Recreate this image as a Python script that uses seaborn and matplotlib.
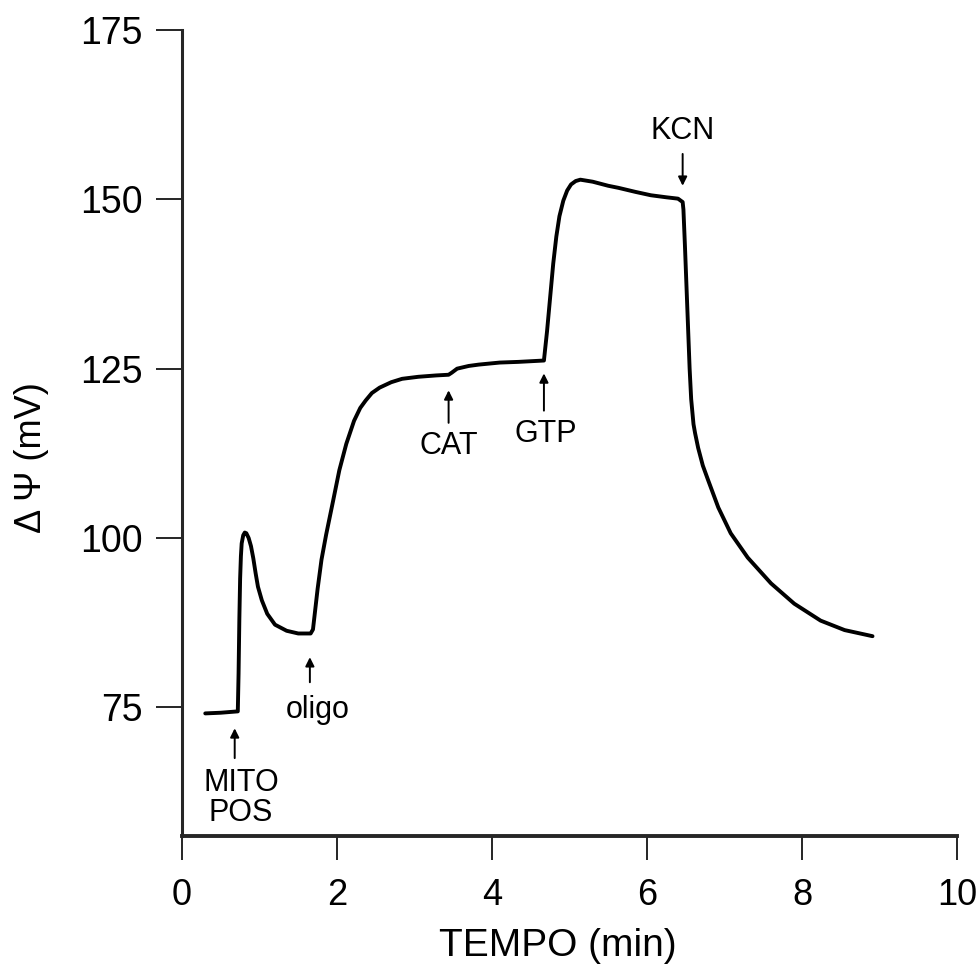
import matplotlib
matplotlib.use("Agg")
import matplotlib.pyplot as plt
import seaborn as sns
import pandas as pd

# Membrane potential trace (time in min, potential in mV)
time_min = [
    0.30, 0.50, 0.72, 0.73, 0.74, 0.75, 0.76, 0.77, 0.79, 0.81, 0.83, 0.86,
    0.89, 0.92, 0.95, 0.98, 1.03, 1.10, 1.20, 1.35, 1.50, 1.66, 1.69, 1.75,
    1.80, 1.86, 1.95, 2.03, 2.12, 2.22, 2.30, 2.37, 2.45, 2.55, 2.70, 2.84,
    3.05, 3.28, 3.44, 3.48, 3.55, 3.70, 3.83, 4.10, 4.34, 4.67, 4.71, 4.75,
    4.79, 4.83, 4.87, 4.92, 4.97, 5.02, 5.08, 5.14, 5.30, 5.50, 5.63, 5.85,
    6.05, 6.25, 6.40, 6.46, 6.47, 6.49, 6.51, 6.53, 6.55, 6.57, 6.60, 6.62,
    6.66, 6.72, 6.79, 6.92, 7.08, 7.30, 7.60, 7.90, 8.24, 8.55, 8.91,
]
delta_psi_mv = [
    74.1, 74.2, 74.4, 80.0, 88.0, 94.0, 97.3, 99.2, 100.4, 100.8, 100.7, 100.0,
    98.8, 97.0, 94.8, 92.8, 90.8, 88.8, 87.2, 86.3, 85.9, 85.9, 86.5, 92.5,
    96.8, 100.5, 105.5, 110.0, 113.9, 117.3, 119.2, 120.3, 121.4, 122.2, 123.0, 123.5,
    123.8, 124.0, 124.1, 124.4, 125.0, 125.4, 125.6, 125.9, 126.0, 126.2, 130.5, 135.5,
    140.5, 144.5, 147.5, 149.8, 151.3, 152.2, 152.7, 152.9, 152.6, 152.0, 151.7, 151.1,
    150.6, 150.3, 150.1, 149.6, 148.5, 143.0, 137.0, 131.0, 125.0, 120.5, 116.8, 115.5,
    113.3, 110.7, 108.5, 104.5, 100.7, 97.1, 93.3, 90.3, 87.8, 86.4, 85.5,
]

# Additions during the run
event_labels = ["MITO\nPOS", "oligo", "CAT", "GTP", "KCN"]
event_times = [0.68, 1.65, 3.44, 4.67, 6.46]

x_ticks = [0, 2, 4, 6, 8, 10]
x_tick_labels = ["0", "2", "4", "6", "8", "10"]
y_ticks = [75, 100, 125, 150, 175]
y_tick_labels = ["75", "100", "125", "150", "175"]

trace = pd.DataFrame({"tempo": time_min, "dpsi": delta_psi_mv})

sns.set_style("ticks")
plt.rcParams["font.family"] = ["Liberation Sans", "DejaVu Sans"]

W, H = 980, 976
fig = plt.figure(figsize=(W / 100, H / 100), dpi=100)
ax = fig.add_axes([182 / W, 1 - 836 / H, 775 / W, 806 / H])

sns.lineplot(data=trace, x="tempo", y="dpsi", sort=False, estimator=None,
             color="black", linewidth=2.8, ax=ax)

ax.set_xlim(0, 10)
ax.set_ylim(56, 175)
ax.set_xticks(x_ticks)
ax.set_xticklabels(x_tick_labels)
ax.set_yticks(y_ticks)
ax.set_yticklabels(y_tick_labels)

sns.despine(ax=ax)
ax.spines["left"].set_linewidth(2.2)
ax.spines["bottom"].set_linewidth(2.8)
ax.tick_params(axis="y", direction="out", length=19, width=1.2, pad=9,
               labelsize=27, colors="black")
ax.tick_params(axis="x", direction="out", length=17, width=1.2, pad=13,
               labelsize=26, colors="black")

ax.set_xlabel("TEMPO (min)", fontsize=28, color="black")
ax.set_ylabel("Δ Ψ (mV)", fontsize=26, color="black")
ax.xaxis.set_label_coords(0.485, -0.114)
ax.yaxis.set_label_coords(-0.172, 0.47)

arrow_kw = dict(arrowstyle="-|>", lw=1.4, color="black", mutation_scale=13,
                shrinkA=0, shrinkB=0)
# (arrow tail, arrow tip, label x, label y) for each addition
layout = {
    "MITO\nPOS": (67.5, 71.9, 0.76, 61.6),
    "oligo": (78.7, 82.4, 1.75, 74.6),
    "CAT": (117.0, 121.8, 3.44, 113.6),
    "GTP": (118.8, 124.3, 4.69, 115.4),
    "KCN": (156.7, 152.0, 6.46, 160.1),
}
for label, t in zip(event_labels, event_times):
    tail, tip, lx, ly = layout[label]
    ax.annotate("", xy=(t, tip), xytext=(t, tail), arrowprops=arrow_kw)
    ax.text(lx, ly, label, ha="center", va="center", fontsize=22,
            linespacing=1.0, color="black")

fig.savefig("out.png", dpi=100)
